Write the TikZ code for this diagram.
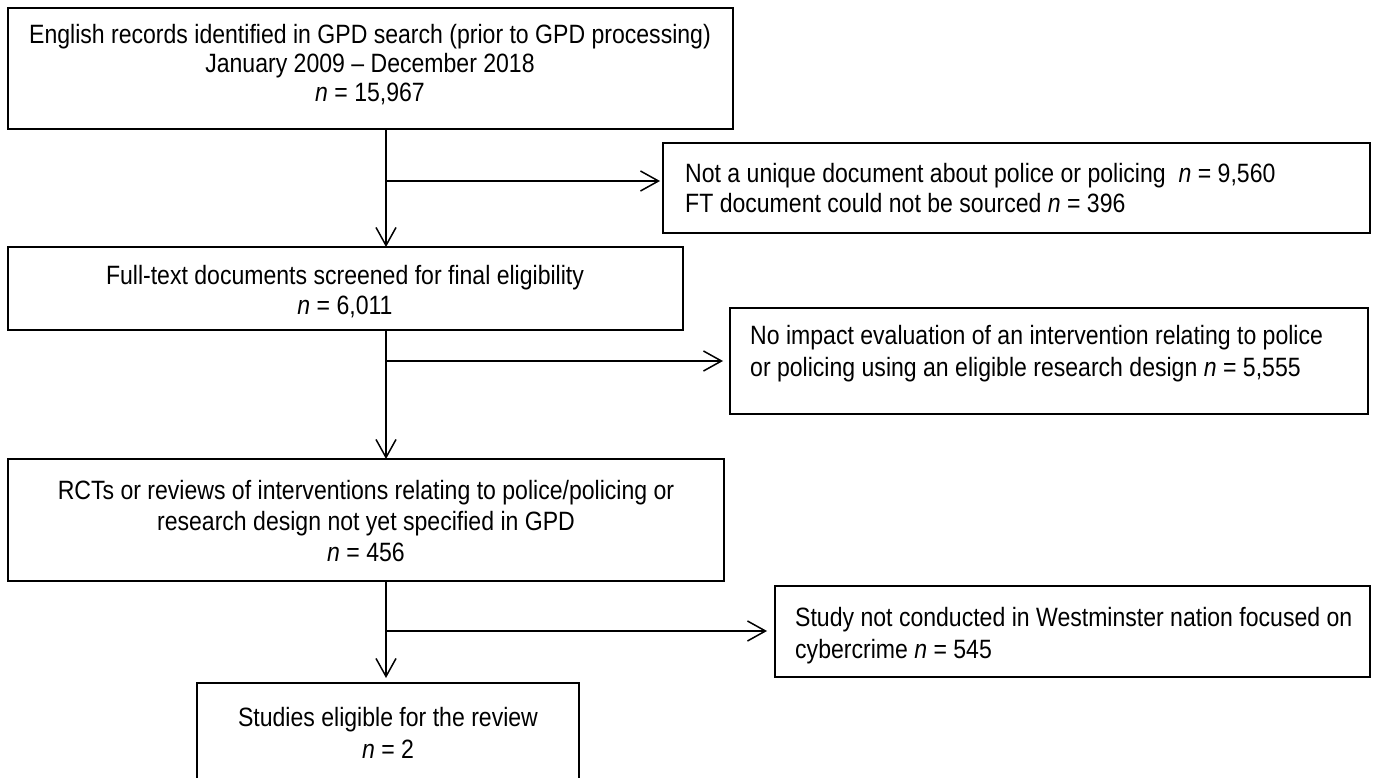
\documentclass[tikz,border=0pt]{standalone}
\usepackage{fontspec}
\setmainfont{Liberation Sans}[FakeStretch=0.87]
\usetikzlibrary{arrows.meta}
\begin{document}
\begin{tikzpicture}[x=1pt,y=-1pt,
  box/.style={draw=black, line width=1.7pt, rectangle, inner sep=0pt, outer sep=0pt, anchor=north west},
  txt/.style={anchor=base, inner sep=0pt, font=\fontsize{26.5}{31}\selectfont},
  ltxt/.style={anchor=base west, inner sep=0pt, font=\fontsize{26.5}{31}\selectfont},
  flow/.style={line width=1.5pt, -{Straight Barb[length=18pt,width=20pt,line width=1.5pt]}}
]
\useasboundingbox (0,0) rectangle (1377,778);

% boxes
\node[box, minimum width=725pt, minimum height=121pt] (b1) at (8,8) {};
\node[box, minimum width=707pt, minimum height=90pt] (b2) at (663,143) {};
\node[box, minimum width=675pt, minimum height=83pt] (b3) at (8,247) {};
\node[box, minimum width=638pt, minimum height=106pt] (b4) at (730,308) {};
\node[box, minimum width=716pt, minimum height=122pt] (b5) at (8,459) {};
\node[box, minimum width=595pt, minimum height=91pt] (b6) at (775,586) {};
\node[box, minimum width=382pt, minimum height=110pt] (b7) at (197,683) {};

% texts
\node[txt] (t1a) at (370,44) {English records identified in GPD search (prior to GPD processing)};
\node[txt] (t1b) at (370,73) {January 2009 – December 2018};
\node[txt] (t1c) at (370,102) {\textit{n} = 15,967};

\node[ltxt] (t2a) at (685,183) {Not a unique document about police or policing \ \textit{n} = 9,560};
\node[ltxt] (t2b) at (685,213) {FT document could not be sourced \textit{n} = 396};

\node[txt] (t3a) at (345,284) {Full-text documents screened for final eligibility};
\node[txt] (t3b) at (345,314) {\textit{n} = 6,011};

\node[ltxt] (t4a) at (750,344) {No impact evaluation of an intervention relating to police};
\node[ltxt] (t4b) at (750,376) {or policing using an eligible research design \textit{n} = 5,555};

\node[txt] (t5a) at (366,499) {RCTs or reviews of interventions relating to police/policing or};
\node[txt] (t5b) at (366,530) {research design not yet specified in GPD};
\node[txt] (t5c) at (366,561) {\textit{n} = 456};

\node[ltxt] (t6a) at (795,626) {Study not conducted in Westminster nation focused on};
\node[ltxt] (t6b) at (795,658) {cybercrime \textit{n} = 545};

\node[txt] (t7a) at (388,726) {Studies eligible for the review};
\node[txt] (t7b) at (388,758) {\textit{n} = 2};

% connectors
\coordinate (j1) at (386,181);
\coordinate (j2) at (386,361);
\coordinate (j3) at (386,631);

\draw[flow] (b1.south -| j1) -- (b3.north -| j1);
\draw[flow, shorten >=3pt] (j1) -- (b2.west |- j1);

\draw[flow] (b3.south -| j2) -- (b5.north -| j2);
\draw[flow, shorten >=7pt] (j2) -- (b4.west |- j2);

\draw[flow, shorten >=5pt] (b5.south -| j3) -- (b7.north -| j3);
\draw[flow, shorten >=8pt] (j3) -- (b6.west |- j3);
\end{tikzpicture}
\end{document}
